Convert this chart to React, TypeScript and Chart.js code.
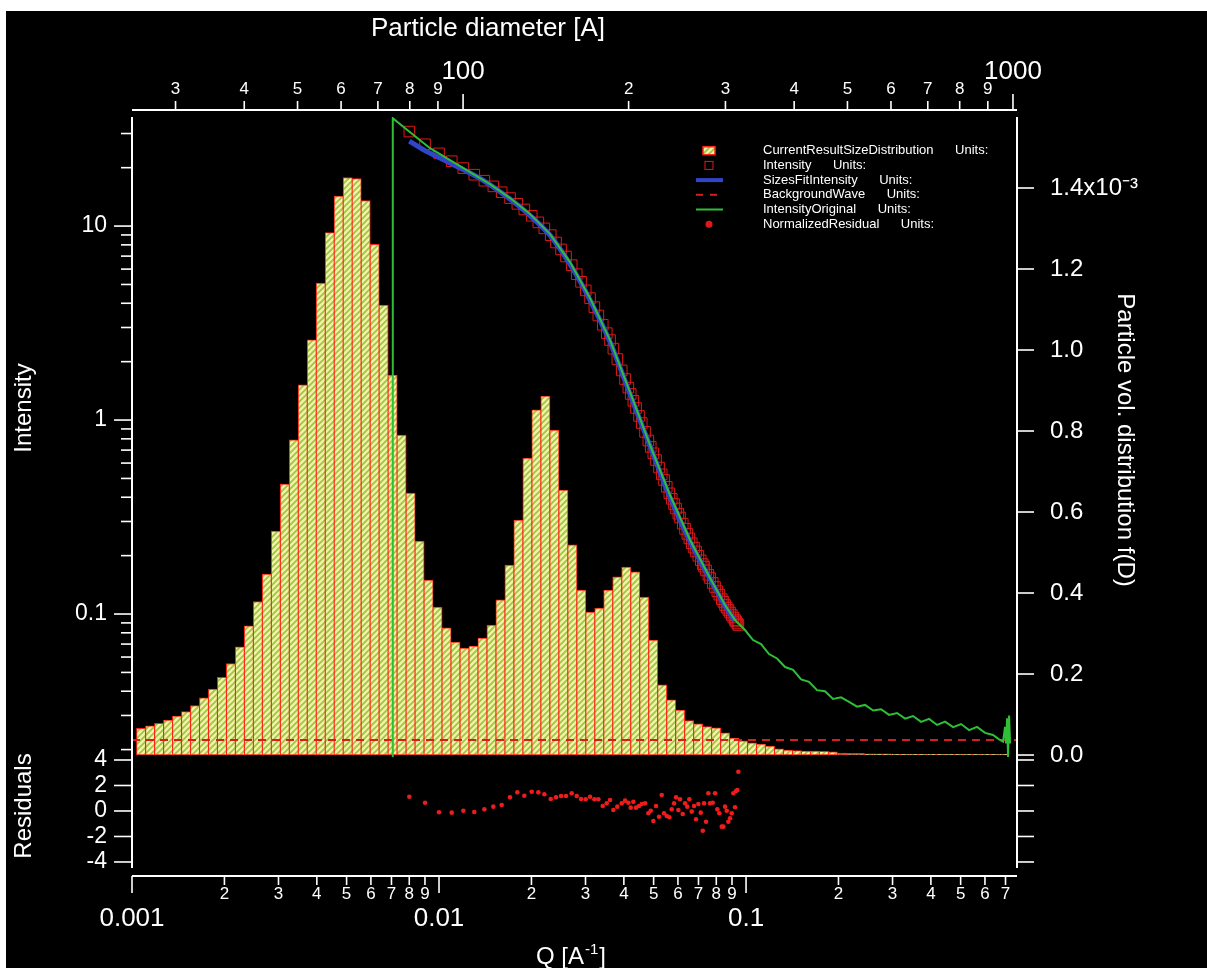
import React, { useEffect, useRef } from 'react';
import { Chart, registerables } from 'chart.js';

Chart.register(...registerables);

// ---------------- data ----------------
// size distribution: bin centres (diameter, Å) and f(D) in units of 1e-3
const BIN_DIAMETERS = [
  25.47, 26.45, 27.47, 28.52, 29.61, 30.75, 31.93, 33.15, 34.42, 35.74,
  37.11, 38.53, 40.01, 41.54, 43.14, 44.79, 46.51, 48.29, 50.14, 52.06,
  54.06, 56.13, 58.28, 60.51, 62.83, 65.24, 67.74, 70.34, 73.03, 75.83,
  78.74, 81.76, 84.89, 88.14, 91.52, 95.03, 98.69, 102.48, 106.4, 110.48,
  114.72, 119.12, 123.68, 128.42, 133.35, 138.46, 143.77, 149.28, 155.0, 160.95,
  167.12, 173.52, 180.17, 187.08, 194.26, 201.7, 209.44, 217.46, 225.8, 234.45,
  243.44, 252.77, 262.46, 272.52, 282.97, 293.82, 305.08, 316.78, 328.92, 341.53,
  354.62, 368.22, 382.33, 396.98, 412.2, 428.0, 444.41, 461.45, 479.12, 497.49,
  516.56, 536.36, 556.92, 578.26, 600.43, 623.45, 647.35, 672.17, 697.93, 724.68,
  752.46, 781.31, 811.26, 842.35, 874.64, 908.17, 942.99,
];
const SIZE_DIST_E3 = [
  0.066, 0.072, 0.078, 0.086, 0.096, 0.107, 0.122, 0.141, 0.163, 0.192,
  0.226, 0.267, 0.319, 0.379, 0.447, 0.553, 0.669, 0.778, 0.914, 1.025,
  1.165, 1.29, 1.38, 1.426, 1.423, 1.369, 1.261, 1.111, 0.938, 0.79,
  0.647, 0.528, 0.432, 0.365, 0.314, 0.279, 0.264, 0.269, 0.289, 0.321,
  0.383, 0.469, 0.58, 0.733, 0.852, 0.886, 0.802, 0.654, 0.519, 0.407,
  0.353, 0.363, 0.407, 0.44, 0.464, 0.452, 0.39, 0.284, 0.173, 0.136,
  0.111, 0.085, 0.077, 0.07, 0.067, 0.055, 0.042, 0.035, 0.03, 0.027,
  0.022, 0.015, 0.012, 0.011, 0.01, 0.01, 0.009, 0.008, 0.005, 0.004,
  0.004, 0.003, 0.003, 0.003, 0.002, 0.002, 0.002, 0.002, 0.002, 0.002,
  0.002, 0.002, 0.002, 0.002, 0.002, 0.002, 0.002,
];

// measured data points (Q in 1/Å), intensity and normalized residual
const DATA_Q = [
  0.008004, 0.009004, 0.0100, 0.01100, 0.01200, 0.01303, 0.01405, 0.01503, 0.01600, 0.01703,
  0.01799, 0.01896, 0.02004, 0.02106, 0.02203, 0.02311, 0.02405, 0.02497, 0.02592, 0.02705,
  0.02809, 0.02901, 0.03005, 0.03104, 0.03206, 0.03303, 0.03414, 0.03518, 0.03606, 0.03697,
  0.03809, 0.03937, 0.04036, 0.04137, 0.04211, 0.04295, 0.04382, 0.04482, 0.04574, 0.04688,
  0.04806, 0.04893, 0.04989, 0.05091, 0.05207, 0.05314, 0.05407, 0.05517, 0.05626, 0.05728,
  0.05828, 0.05916, 0.06019, 0.06095, 0.06220, 0.06329, 0.06439, 0.06537, 0.06655, 0.06771,
  0.06873, 0.06993, 0.07120, 0.07228, 0.07299, 0.07409, 0.07538, 0.07634, 0.07790, 0.07925,
  0.08063, 0.08185, 0.08334, 0.08435, 0.08543, 0.08652, 0.08757, 0.08869, 0.08983, 0.09092,
  0.09208, 0.09277, 0.09369, 0.09439,
];
const INTENSITY = [
  30.7, 26.4, 23.7, 21.6, 19.9, 18.4, 17.14, 16.02, 14.94, 13.94,
  13.02, 12.18, 11.3, 10.45, 9.73, 8.98, 8.23, 7.58, 6.97, 6.29,
  5.65, 5.16, 4.66, 4.25, 3.82, 3.46, 3.1, 2.805, 2.585, 2.334,
  2.063, 1.802, 1.627, 1.469, 1.363, 1.257, 1.154, 1.05, 0.965, 0.869,
  0.784, 0.727, 0.674, 0.622, 0.569, 0.525, 0.491, 0.453, 0.419, 0.3925,
  0.369, 0.35, 0.329, 0.3145, 0.2924, 0.2749, 0.2588, 0.2454, 0.2317, 0.22,
  0.2102, 0.1995, 0.1891, 0.1808, 0.1755, 0.1678, 0.1592, 0.1533, 0.1446, 0.1378,
  0.1312, 0.1258, 0.1193, 0.1155, 0.1113, 0.1079, 0.1049, 0.1018, 0.0988, 0.0959,
  0.0931, 0.0915, 0.0894, 0.0878,
];
const NORM_RESIDUAL = [
  1.12, 0.65, -0.1, -0.13, 0.02, -0.08, 0.13, 0.34, 0.47, 1.07,
  1.46, 1.2, 1.51, 1.46, 1.31, 0.94, 1.07, 1.18, 1.18, 1.39,
  1.18, 0.94, 0.92, 1.12, 0.92, 0.92, 0.39, 0.6, 0.86, 0.08,
  0.34, 0.6, 0.81, 0.65, 0.26, 0.73, 0.26, 0.39, 0.55, 0.6,
  -0.18, 0.02, -0.78, 0.39, -0.45, 1.25, -0.18, -0.39, -0.49, 0.13,
  0.6, 1.07, 0.08, 0.92, -0.24, 0.6, 0.34, 0.92, -0.05, 0.39,
  -0.65, 0.55, -0.13, -1.55, 0.6, -0.84, 1.39, 0.6, 0.65, 1.39,
  0.13, -0.18, -1.23, -1.23, 0.34, 0.02, -0.84, -0.57, -0.18, 1.39,
  0.29, 1.57, 1.65, 3.08,
];

// model fit
const FIT_Q = [
  0.008004, 0.009004, 0.0100, 0.0120, 0.01405, 0.01703, 0.02004, 0.02311, 0.02705,
  0.03104, 0.03606, 0.04211, 0.04893, 0.05626, 0.06537, 0.07634, 0.08543, 0.09208,
];
const FIT_I = [
  27.4, 24.5, 22.55, 19.55, 17.06, 13.78, 11.13, 8.88, 6.15,
  4.155, 2.524, 1.329, 0.7175, 0.4058, 0.2407, 0.1515, 0.11, 0.092,
];

// original (full range) intensity
const ORIG_Q = [
  0.007029, 0.00707, 0.008106, 0.009348, 0.01086, 0.01262, 0.01466, 0.01703, 0.01979, 0.02299,
  0.02671, 0.03104, 0.03606, 0.0419, 0.04868, 0.05655, 0.06571, 0.07634, 0.08543, 0.09208,
  0.0992, 0.1054, 0.1119, 0.1188, 0.1262, 0.134, 0.1423, 0.1511, 0.1604, 0.1703,
  0.1808, 0.192, 0.2039, 0.2165, 0.2299, 0.2441, 0.2593, 0.2753, 0.2923, 0.3104,
  0.3296, 0.3499, 0.3716, 0.3946, 0.419, 0.4449, 0.4724, 0.5016, 0.5326, 0.5655,
  0.6005, 0.6376, 0.6671, 0.6872, 0.6975, 0.7029, 0.7082, 0.7135, 0.7189, 0.7244,
];
const ORIG_I = [
  0.01832, 36.0, 30.2, 25.2, 21.9, 18.98, 16.46, 13.94, 11.53, 9.09,
  6.52, 4.25, 2.585, 1.394, 0.743, 0.4107, 0.2407, 0.1533, 0.1113, 0.0931,
  0.0827, 0.0734, 0.07, 0.0622, 0.059, 0.0533, 0.0515, 0.046, 0.0447, 0.0405,
  0.04, 0.0365, 0.0372, 0.0352, 0.0333, 0.034, 0.0318, 0.0323, 0.0302, 0.0309,
  0.0289, 0.0298, 0.0278, 0.0288, 0.0268, 0.0279, 0.0261, 0.0271, 0.0252, 0.0262,
  0.0244, 0.0238, 0.0226, 0.022, 0.0262, 0.0215, 0.029, 0.01832, 0.03, 0.0215,
];

const BACKGROUND_Q = [0.001, 0.763];
const BACKGROUND_I = [0.0224, 0.0224];

// axis ranges & ticks
const Q_RANGE = [0.001, 0.763];
const D_RANGE = [25.0, 1017];
const I_RANGE = [0.01832, 36.5];
const RES_RANGE = [-5.1, 4.235];
const DIST_RANGE = [-0.0049, 1.5753];

const Q_MAJOR = [0.001, 0.01, 0.1];
const Q_MINOR = [
  0.002, 0.003, 0.004, 0.005, 0.006, 0.007, 0.008, 0.009,
  0.02, 0.03, 0.04, 0.05, 0.06, 0.07, 0.08, 0.09,
  0.2, 0.3, 0.4, 0.5, 0.6, 0.7,
];
const D_MAJOR = [100, 1000];
const D_MINOR = [30, 40, 50, 60, 70, 80, 90, 200, 300, 400, 500, 600, 700, 800, 900];
const I_MAJOR = [0.1, 1, 10];
const I_MINOR = [
  0.02, 0.03, 0.04, 0.05, 0.06, 0.07, 0.08, 0.09,
  0.2, 0.3, 0.4, 0.5, 0.6, 0.7, 0.8, 0.9,
  2, 3, 4, 5, 6, 7, 8, 9, 20, 30,
];
const RES_TICKS = [-4, -2, 0, 2, 4];
const DIST_TICKS = [0, 0.2, 0.4, 0.6, 0.8, 1.0, 1.2, 1.4];

const LEGEND_NAMES = [
  'CurrentResultSizeDistribution',
  'Intensity',
  'SizesFitIntensity',
  'BackgroundWave',
  'IntensityOriginal',
  'NormalizedResidual',
];

// ---------------- styling ----------------
const FAMILY = "'Liberation Sans', Arial, Helvetica, sans-serif";
const C_GREEN = '#2fbf36';
const C_BLUE = '#3046c6';
const C_RED = '#e21818';
const C_BAR_EDGE = '#ff2418';
const C_BG_LINE = '#d02020';

function isDecade(v: number) {
  const l = Math.log10(v);
  return Math.abs(l - Math.round(l)) < 1e-9;
}
function leadDigit(v: number) {
  const p = Math.pow(10, Math.floor(Math.log10(v) + 1e-9));
  return String(Math.round(v / p));
}
function makeHatch(): any {
  const c = document.createElement('canvas');
  c.width = 6;
  c.height = 6;
  const g = c.getContext('2d')!;
  g.fillStyle = '#f0f2a4';
  g.fillRect(0, 0, 6, 6);
  g.strokeStyle = '#9cc443';
  g.lineWidth = 1.6;
  g.beginPath();
  for (let k = -1; k <= 1; k++) {
    g.moveTo(k * 6 - 1, 7);
    g.lineTo(k * 6 + 7, -1);
  }
  g.stroke();
  return g.createPattern(c, 'repeat');
}
const pts = (xs: number[], ys: number[]) => xs.map((x, i) => ({ x, y: ys[i] }));

export default function App() {
  const ref = useRef<HTMLCanvasElement>(null);

  useEffect(() => {
    const canvas = ref.current!;
    const hatch = makeHatch();

    const decor = {
      id: 'igorDecor',
      afterDraw(chart: any) {
        const { ctx, chartArea: ca, scales: s } = chart;
        ctx.save();
        ctx.strokeStyle = '#ffffff';
        ctx.fillStyle = '#ffffff';
        const seg = (x1: number, y1: number, x2: number, y2: number, w: number) => {
          ctx.lineWidth = w;
          ctx.beginPath();
          ctx.moveTo(x1, y1);
          ctx.lineTo(x2, y2);
          ctx.stroke();
        };
        // axis lines
        const topY = ca.top - 7;
        seg(ca.left, ca.bottom, ca.right, ca.bottom, 2);
        seg(ca.left, topY, ca.right, topY, 2);
        seg(ca.left, ca.top, ca.left, s.yRes.bottom - 8, 2);
        seg(ca.right, ca.top, ca.right, s.yResR.bottom - 8, 2);
        // bottom Q ticks
        Q_MAJOR.forEach((v) => { const x = s.xQ.getPixelForValue(v); seg(x, ca.bottom, x, ca.bottom + 17, 1.6); });
        Q_MINOR.forEach((v) => { const x = s.xQ.getPixelForValue(v); seg(x, ca.bottom, x, ca.bottom + 9, 1.6); });
        // top D ticks
        D_MAJOR.forEach((v) => { const x = s.xD.getPixelForValue(v); seg(x, topY, x, topY - 16, 1.6); });
        D_MINOR.forEach((v) => { const x = s.xD.getPixelForValue(v); seg(x, topY, x, topY - 9, 1.6); });
        // left intensity ticks
        I_MAJOR.forEach((v) => { const y = s.yInt.getPixelForValue(v); seg(ca.left, y, ca.left - 18, y, 1.6); });
        I_MINOR.forEach((v) => { const y = s.yInt.getPixelForValue(v); seg(ca.left, y, ca.left - 11, y, 1.6); });
        // residual ticks left & right
        RES_TICKS.forEach((v) => {
          const y = s.yRes.getPixelForValue(v);
          seg(ca.left, y, ca.left - 18, y, 1.6);
          const y2 = s.yResR.getPixelForValue(v);
          seg(ca.right, y2, ca.right + 17, y2, 1.6);
        });
        // right distribution ticks
        DIST_TICKS.forEach((v) => { const y = s.yDist.getPixelForValue(v); seg(ca.right, y, ca.right + 17, y, 1.6); });

        // titles
        ctx.fillStyle = '#ffffff';
        ctx.textAlign = 'center';
        ctx.textBaseline = 'alphabetic';
        ctx.font = `26px ${FAMILY}`;
        ctx.fillText('Particle diameter [A]', 482, 25);
        ctx.textBaseline = 'middle';
        ctx.font = `24px ${FAMILY}`;
        const rot = (text: string, x: number, y: number, a: number) => {
          ctx.save();
          ctx.translate(x, y);
          ctx.rotate(a);
          ctx.fillText(text, 0, 0);
          ctx.restore();
        };
        rot('Intensity', 18, 397, -Math.PI / 2);
        rot('Residuals', 18, 795, -Math.PI / 2);
        rot('Particle vol. distribution f(D)', 1119, 429, Math.PI / 2);
        // bottom title with superscript
        ctx.textAlign = 'left';
        ctx.textBaseline = 'alphabetic';
        let qx = 530;
        const qy = 953;
        ctx.font = `24px ${FAMILY}`;
        ctx.fillText('Q [A', qx, qy);
        qx += ctx.measureText('Q [A').width + 1;
        ctx.font = `15px ${FAMILY}`;
        ctx.fillText('-1', qx, qy - 10);
        qx += ctx.measureText('-1').width + 1;
        ctx.font = `24px ${FAMILY}`;
        ctx.fillText(']', qx, qy);

        // legend
        const lx = 757;
        const sx = 703;
        ctx.font = `13px ${FAMILY}`;
        ctx.textBaseline = 'middle';
        LEGEND_NAMES.forEach((name, k) => {
          const y = 139.7 + k * 14.7;
          ctx.fillStyle = '#ffffff';
          ctx.fillText(name, lx, y);
          const w = ctx.measureText(name).width;
          ctx.fillText('Units:', lx + w + 21.5, y);
          ctx.save();
          if (k === 0) {
            ctx.fillStyle = hatch;
            ctx.fillRect(sx - 6, y - 4, 12, 8);
            ctx.strokeStyle = C_BAR_EDGE;
            ctx.lineWidth = 1.5;
            ctx.strokeRect(sx - 6, y - 4, 12, 8);
          } else if (k === 1) {
            ctx.strokeStyle = C_RED;
            ctx.lineWidth = 1;
            ctx.strokeRect(sx - 4, y - 4, 8, 8);
          } else if (k === 2) {
            ctx.strokeStyle = C_BLUE;
            ctx.lineWidth = 4;
            ctx.beginPath(); ctx.moveTo(sx - 13, y); ctx.lineTo(sx + 14, y); ctx.stroke();
          } else if (k === 3) {
            ctx.strokeStyle = C_BG_LINE;
            ctx.lineWidth = 2;
            ctx.setLineDash([7, 7]);
            ctx.beginPath(); ctx.moveTo(sx - 13, y); ctx.lineTo(sx + 14, y); ctx.stroke();
          } else if (k === 4) {
            ctx.strokeStyle = C_GREEN;
            ctx.lineWidth = 2;
            ctx.beginPath(); ctx.moveTo(sx - 13, y); ctx.lineTo(sx + 14, y); ctx.stroke();
          } else {
            ctx.fillStyle = C_RED;
            ctx.beginPath(); ctx.arc(sx, y, 3.5, 0, Math.PI * 2); ctx.fill();
          }
          ctx.restore();
        });
        ctx.restore();
      },
    };

    const minorFont = { family: FAMILY, size: 17, lineHeight: 1.2 };

    const chart = new Chart(canvas, {
      type: 'line',
      data: {
        datasets: [
          {
            type: 'scatter',
            label: 'NormalizedResidual',
            data: pts(DATA_Q, NORM_RESIDUAL),
            xAxisID: 'xQ',
            yAxisID: 'yRes',
            showLine: false,
            pointRadius: 2.3,
            pointBorderWidth: 0,
            pointBackgroundColor: '#f01c1c',
            order: 0,
          },
          {
            type: 'line',
            label: 'IntensityOriginal',
            data: pts(ORIG_Q, ORIG_I),
            xAxisID: 'xQ',
            yAxisID: 'yInt',
            borderColor: C_GREEN,
            borderWidth: 2,
            pointRadius: 0,
            tension: 0,
            order: 1,
          },
          {
            type: 'line',
            label: 'SizesFitIntensity',
            data: pts(FIT_Q, FIT_I),
            xAxisID: 'xQ',
            yAxisID: 'yInt',
            borderColor: C_BLUE,
            borderWidth: 5,
            pointRadius: 0,
            tension: 0.3,
            order: 2,
          },
          {
            type: 'line',
            label: 'Intensity',
            data: pts(DATA_Q, INTENSITY),
            xAxisID: 'xQ',
            yAxisID: 'yInt',
            showLine: false,
            pointStyle: 'rect',
            pointRadius: 7.5,
            pointBorderWidth: 1,
            pointBorderColor: C_RED,
            pointBackgroundColor: 'rgba(0,0,0,0)',
            order: 3,
          },
          {
            type: 'line',
            label: 'BackgroundWave',
            data: pts(BACKGROUND_Q, BACKGROUND_I),
            xAxisID: 'xQ',
            yAxisID: 'yInt',
            borderColor: C_BG_LINE,
            borderWidth: 2,
            borderDash: [8, 6],
            pointRadius: 0,
            order: 4,
          },
          {
            type: 'bar',
            label: 'CurrentResultSizeDistribution',
            data: pts(BIN_DIAMETERS, SIZE_DIST_E3),
            xAxisID: 'xD',
            yAxisID: 'yDist',
            backgroundColor: hatch,
            borderColor: C_BAR_EDGE,
            borderWidth: 1,
            borderSkipped: false,
            barPercentage: 1,
            categoryPercentage: 1,
            barThickness: 9.2,
            order: 5,
          },
        ],
      },
      options: {
        animation: false,
        responsive: true,
        maintainAspectRatio: false,
        layout: { padding: 0 },
        datasets: { bar: { barPercentage: 1, categoryPercentage: 1, barThickness: 9.2 } },
        plugins: { legend: { display: false }, tooltip: { enabled: false } },
        events: [],
        scales: {
          xQ: {
            type: 'logarithmic',
            position: 'bottom',
            min: Q_RANGE[0],
            max: Q_RANGE[1],
            grid: { display: false },
            border: { display: false },
            afterFit: (sc: any) => { sc.height = 92; },
            afterBuildTicks: (sc: any) => {
              sc.ticks = [...Q_MAJOR, ...Q_MINOR].sort((a, b) => a - b).map((v) => ({ value: v }));
            },
            ticks: {
              autoSkip: false,
              maxRotation: 0,
              minRotation: 0,
              padding: 0,
              color: '#ffffff',
              font: (c: any) =>
                c.tick && isDecade(c.tick.value)
                  ? { family: FAMILY, size: 26, lineHeight: 0.9 }
                  : minorFont,
              callback: (v: any) => (isDecade(v) ? ['', String(v)] : leadDigit(v)),
            },
          },
          xD: {
            type: 'logarithmic',
            position: 'top',
            min: D_RANGE[0],
            max: D_RANGE[1],
            grid: { display: false },
            border: { display: false },
            afterFit: (sc: any) => { sc.height = 106; },
            afterBuildTicks: (sc: any) => {
              sc.ticks = [...D_MAJOR, ...D_MINOR].sort((a, b) => a - b).map((v) => ({ value: v }));
            },
            ticks: {
              autoSkip: false,
              maxRotation: 0,
              minRotation: 0,
              padding: 9,
              color: '#ffffff',
              font: (c: any) =>
                c.tick && isDecade(c.tick.value)
                  ? { family: FAMILY, size: 26, lineHeight: 0.723 }
                  : minorFont,
              callback: (v: any) => (isDecade(v) ? [String(v), ''] : leadDigit(v)),
            },
          },
          yInt: {
            type: 'logarithmic',
            position: 'left',
            stack: 'L',
            stackWeight: 640,
            weight: 1,
            min: I_RANGE[0],
            max: I_RANGE[1],
            grid: { display: false },
            border: { display: false },
            afterFit: (sc: any) => { sc.width = 126; },
            afterBuildTicks: (sc: any) => { sc.ticks = I_MAJOR.map((v) => ({ value: v })); },
            ticks: {
              autoSkip: false,
              padding: 17,
              color: '#ffffff',
              font: { family: FAMILY, size: 23 },
              callback: (v: any) => String(v),
            },
          },
          yRes: {
            type: 'linear',
            position: 'left',
            stack: 'L',
            stackWeight: 119,
            weight: 0,
            min: RES_RANGE[0],
            max: RES_RANGE[1],
            grid: { display: false },
            border: { display: false },
            afterFit: (sc: any) => { sc.width = 126; },
            afterBuildTicks: (sc: any) => { sc.ticks = RES_TICKS.map((v) => ({ value: v })); },
            ticks: {
              autoSkip: false,
              padding: 17,
              color: '#ffffff',
              font: { family: FAMILY, size: 23 },
              callback: (v: any) => String(v),
            },
          },
          yDist: {
            type: 'linear',
            position: 'right',
            stack: 'R',
            stackWeight: 640,
            weight: 0,
            min: DIST_RANGE[0],
            max: DIST_RANGE[1],
            grid: { display: false },
            border: { display: false },
            afterFit: (sc: any) => { sc.width = 190; },
            afterBuildTicks: (sc: any) => { sc.ticks = DIST_TICKS.map((v) => ({ value: v })); },
            ticks: {
              autoSkip: false,
              padding: 25,
              color: '#ffffff',
              font: { family: FAMILY, size: 24 },
              callback: (v: any) => (Math.abs(v - 1.4) < 1e-9 ? '1.4x10\u207B\u00B3' : Number(v).toFixed(1)),
            },
          },
          yResR: {
            type: 'linear',
            position: 'right',
            stack: 'R',
            stackWeight: 119,
            weight: 1,
            min: RES_RANGE[0],
            max: RES_RANGE[1],
            grid: { display: false },
            border: { display: false },
            afterFit: (sc: any) => { sc.width = 190; },
            ticks: { display: false },
          },
        },
      } as any,
      plugins: [decor],
    } as any);

    return () => chart.destroy();
  }, []);

  return (
    <div
      style={{
        position: 'absolute',
        left: 6,
        top: 11,
        width: 1201,
        height: 957,
        background: '#000000',
      }}
    >
      <canvas ref={ref} />
    </div>
  );
}
